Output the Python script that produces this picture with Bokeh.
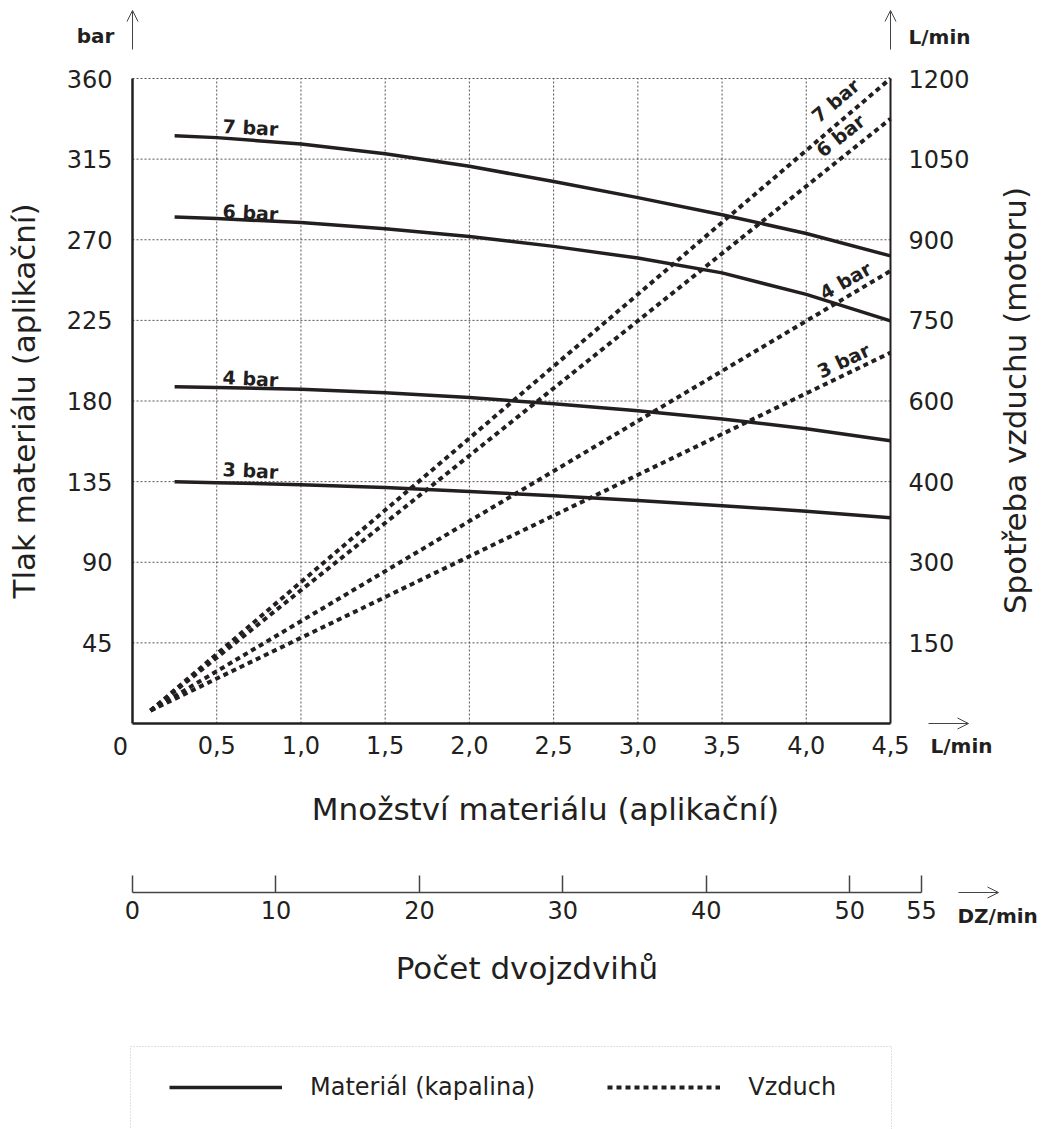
import math
from bokeh.plotting import figure
from bokeh.models import (Range1d, LinearAxis, FixedTicker, Arrow, OpenHead, Label,
                          BoxAnnotation, Legend, LegendItem)
from bokeh.embed import file_html
from bokeh.resources import INLINE

# ---------------- data ----------------
flow_x = [0.25, 0.5, 1.0, 1.5, 2.0, 2.5, 3.0, 3.5, 4.0, 4.5]          # L/min
mat_7bar = [328.0, 327.0, 323.5, 318.0, 311.0, 302.5, 293.5, 284.0, 273.5, 261.0]
mat_6bar = [282.7, 281.8, 279.6, 276.2, 271.8, 266.3, 259.8, 251.5, 239.5, 224.7]
mat_4bar = [187.9, 187.5, 186.6, 184.6, 181.9, 178.5, 174.5, 170.0, 164.5, 157.8]
mat_3bar = [134.9, 134.4, 133.3, 131.7, 129.5, 127.1, 124.4, 121.6, 118.5, 114.8]

air_x = [0.107, 4.5]                                                  # L/min
air_7bar = [24, 1200]                                                 # air L/min
air_6bar = [24, 1125]
air_4bar = [24, 842]
air_3bar = [24, 690]

x_ticks = [0, 0.5, 1.0, 1.5, 2.0, 2.5, 3.0, 3.5, 4.0, 4.5]
x_tick_labels = ["0", "0,5", "1,0", "1,5", "2,0", "2,5", "3,0", "3,5", "4,0", "4,5"]
y_ticks = [45, 90, 135, 180, 225, 270, 315, 360]
air_ticks = [150, 300, 450, 600, 750, 900, 1050, 1200]
air_tick_labels = ["150", "300", "400", "600", "750", "900", "1050", "1200"]
stroke_ticks = [0, 10, 20, 30, 40, 50, 55]

series_labels = ["7 bar", "6 bar", "4 bar", "3 bar"]

# ---------------- layout constants (pixels) ----------------
W, H = 1048, 1129
PX_X0, PX_X1 = 132, 890        # x = 0 and x = 4.5
PX_Y0, PX_Y1 = 723, 78         # y = 0 and y = 360
PX_DZ0, PX_DZ1 = 132, 921      # strokes 0 and 55
PX_DZ_Y = 892                  # stroke axis line

XMAX, YMAX, AIRMAX, DZMAX = 4.5, 360.0, 1200.0, 55.0
sx = (PX_X1 - PX_X0) / XMAX
sy = (PX_Y0 - PX_Y1) / YMAX
sdz = (PX_DZ1 - PX_DZ0) / DZMAX

def dx(px):
    return (px - PX_X0) / sx

def dy(py):
    return (PX_Y0 - py) / sy

INK = "#231f20"
FONT = "DejaVu Sans"
TICK_FS = "24px"
TITLE_FS = "31px"
UNIT_FS = "20px"
LBL_FS = "19px"

p = figure(width=W, height=H,
           x_range=Range1d(dx(0), dx(W)), y_range=Range1d(dy(H), dy(0)),
           output_backend="svg", toolbar_location=None,
           x_axis_type=None, y_axis_type=None,
           min_border_left=0, min_border_right=0, min_border_top=0, min_border_bottom=0)
p.outline_line_color = None
p.xgrid.visible = False
p.ygrid.visible = False
p.extra_y_ranges = {"air": Range1d(dy(H) * AIRMAX / YMAX, dy(0) * AIRMAX / YMAX)}
p.extra_x_ranges = {"dz": Range1d((0 - PX_DZ0) / sdz, (W - PX_DZ0) / sdz)}

# ---- grid (from tick arrays) ----
p.segment(x0=x_ticks[1:-1], y0=0, x1=x_ticks[1:-1], y1=YMAX,
          line_color="#555555", line_dash="2 2", line_width=1)
p.segment(x0=0, y0=y_ticks, x1=XMAX, y1=y_ticks,
          line_color="#555555", line_dash="2 2", line_width=1)

# ---- axes ----
def style(ax, lw=2.5):
    ax.major_tick_out = 0
    ax.major_tick_in = 0
    ax.minor_tick_out = 0
    ax.minor_tick_in = 0
    ax.axis_line_color = INK
    ax.axis_line_width = lw
    ax.major_label_text_font = FONT
    ax.major_label_text_font_size = TICK_FS
    ax.major_label_text_color = INK
    ax.axis_label_text_font = FONT
    ax.axis_label_text_font_size = TITLE_FS
    ax.axis_label_text_font_style = "normal"
    ax.axis_label_text_color = INK

def title(txt, px, py, angle=0.0):
    p.add_layout(Label(x=dx(px), y=dy(py), text=txt, text_font=FONT,
                       text_font_size=TITLE_FS, text_color=INK, text_align="center",
                       text_baseline="middle", angle=angle))

# x axis: the origin "0" is drawn as a shared corner label, the rest by the axis
xa = LinearAxis(ticker=FixedTicker(ticks=x_ticks[1:]), fixed_location=0, bounds=(0, XMAX))
xa.major_label_overrides = {t: l for t, l in zip(x_ticks, x_tick_labels)}
style(xa)
xa.major_label_standoff = 12
p.add_layout(xa, "below")
p.add_layout(Label(x=dx(120), y=dy(745), text=x_tick_labels[0], text_font=FONT,
                   text_font_size=TICK_FS, text_color=INK, text_align="center",
                   text_baseline="middle"))
title("Množství materiálu (aplikační)", 545, 808)

ya = LinearAxis(ticker=FixedTicker(ticks=y_ticks), fixed_location=0, bounds=(0, YMAX),
                axis_label="Tlak materiálu (aplikační)")
style(ya)
ya.major_label_standoff = 20
ya.axis_label_standoff = 22
p.add_layout(ya, "left")

ra = LinearAxis(y_range_name="air", ticker=FixedTicker(ticks=air_ticks),
                fixed_location=XMAX, bounds=(0, AIRMAX))
ra.major_label_overrides = {t: l for t, l in zip(air_ticks, air_tick_labels)}
style(ra, lw=2)
ra.major_label_standoff = 18
p.add_layout(ra, "right")
title("Spotřeba vzduchu (motoru)", 1014, 400, math.pi / 2)

sa = LinearAxis(x_range_name="dz", ticker=FixedTicker(ticks=stroke_ticks),
                fixed_location=dy(PX_DZ_Y), bounds=(0, DZMAX),
                axis_label="Počet dvojzdvihů")
style(sa, lw=1.5)
sa.axis_line_color = "#444444"
sa.major_tick_in = 17
sa.major_tick_line_color = "#444444"
sa.major_tick_line_width = 1.5
sa.major_label_standoff = 8
sa.axis_label_standoff = 28
p.add_layout(sa, "below")

# ---- series ----
mat_series = [mat_7bar, mat_6bar, mat_4bar, mat_3bar]
air_series = [air_7bar, air_6bar, air_4bar, air_3bar]
solid_r = [p.line(flow_x, ys, line_color=INK, line_width=3.5, line_join="round")
           for ys in mat_series]
dash_r = [p.line(air_x, ys, y_range_name="air", line_color=INK, line_width=4,
                 line_dash="5 4") for ys in air_series]

# curve labels (layout positions, in pixels)
solid_pos = [(250, 127), (250, 212), (250, 378), (250, 470)]
for txt, (lx, ly) in zip(series_labels, solid_pos):
    p.add_layout(Label(x=dx(lx), y=dy(ly), text=txt, text_font=FONT, text_font_size=LBL_FS,
                       text_font_style="bold", text_color=INK, text_align="center",
                       text_baseline="middle", angle=-0.05))
dash_pos = [(835, 100, 0.70), (840, 135, 0.67), (845, 280, 0.52), (843, 360, 0.44)]
for txt, (lx, ly, ang) in zip(series_labels, dash_pos):
    p.add_layout(Label(x=dx(lx), y=dy(ly), text=txt, text_font=FONT, text_font_size=LBL_FS,
                       text_font_style="bold", text_color=INK, text_align="center",
                       text_baseline="middle", angle=ang))

# ---- unit arrows and units ----
ARROW_C = "#444444"
def arrow(x0, y0, x1, y1):
    p.add_layout(Arrow(end=OpenHead(size=11, line_width=1, line_color=ARROW_C),
                       x_start=dx(x0), y_start=dy(y0), x_end=dx(x1), y_end=dy(y1),
                       line_width=1, line_color=ARROW_C))

def unit(txt, px, py, align):
    p.add_layout(Label(x=dx(px), y=dy(py), text=txt, text_font=FONT, text_font_size=UNIT_FS,
                       text_font_style="bold", text_color=INK, text_align=align,
                       text_baseline="middle"))

arrow(PX_X0, 49, PX_X0, 10)
arrow(PX_X1, 49, PX_X1, 10)
arrow(928, PX_Y0, 968, PX_Y0)
arrow(958, PX_DZ_Y, 998, PX_DZ_Y)
unit("bar", 95, 35, "center")
unit("L/min", 908, 36, "left")
unit("L/min", 930, 745, "left")
unit("DZ/min", 957, 915, "left")

# ---- legend ----
p.add_layout(BoxAnnotation(left=dx(130), right=dx(891), top=dy(1046), bottom=dy(H + 20),
                           fill_alpha=0, line_color="#333333", line_dash="1 2", line_width=1))
leg = Legend(items=[LegendItem(label="Materiál (kapalina)", renderers=[solid_r[0]]),
                    LegendItem(label="Vzduch", renderers=[dash_r[0]])],
             location=(169, H - 1102), orientation="horizontal",
             glyph_width=113, glyph_height=30, label_height=30, label_standoff=28,
             spacing=72, padding=0, margin=0, border_line_alpha=0,
             background_fill_alpha=0, label_text_font=FONT, label_text_font_size=TICK_FS,
             label_text_color=INK)
p.add_layout(leg)

open("out.html", "w").write(file_html(p, INLINE))
